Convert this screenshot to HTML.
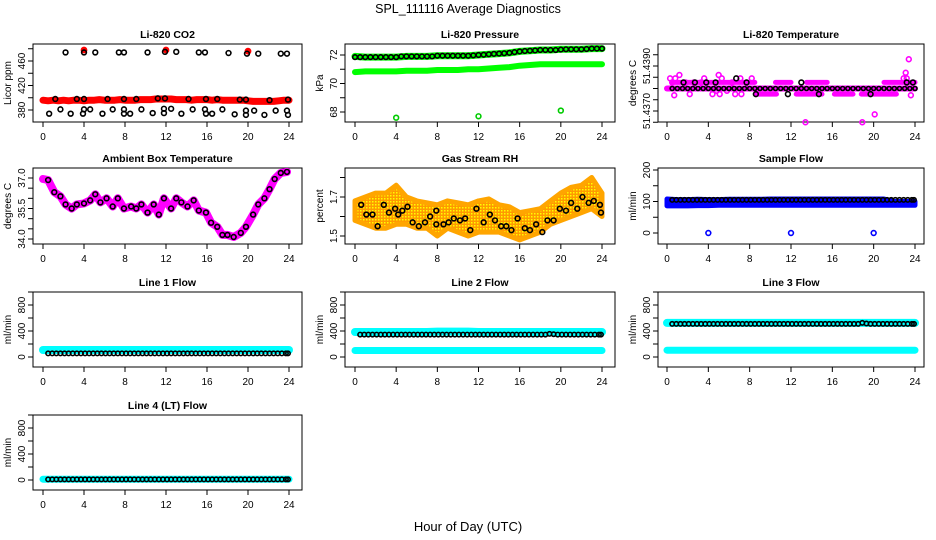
<!DOCTYPE html>
<html><head><meta charset="utf-8"><style>
html,body{margin:0;padding:0;background:#fff}
svg{display:block;font-family:"Liberation Sans",sans-serif}
</style></head><body>
<svg id="chart" width="936" height="540" viewBox="0 0 936 540" xmlns="http://www.w3.org/2000/svg">
<text x="468" y="13" text-anchor="middle" font-size="12.5">SPL_111116  Average Diagnostics</text>
<text x="468" y="531" text-anchor="middle" font-size="13">Hour of Day (UTC)</text>
</svg>
<script>
const xTicks=[0,4,8,12,16,20,24];
const co2Red=[396,395,396,395,396,395,396,396,395,396,396,397,396,396,396,397,396,396,396,397,397,397,398,398,398,398,397,397,397,396,397,397,397,396,397,396,396,396,396,396,395,394,394,394,394,394,395,396,396];
const co2RedOut=[[4,478],[12,478],[20,476]];
const co2Black=[[2.2,474],[4,474],[5.1,474],[7.4,474],[7.9,474],[10.2,474],[11.9,475],[13,475],[15.2,474],[15.8,474],[18.1,473],[19.9,472],[21,472],[23.2,472],[23.8,472],[1.2,398],[3.3,398],[4,398],[6.3,398],[7.9,398],[9.1,398],[11.2,399],[11.9,399],[14.2,398],[15.9,398],[17,398],[19.2,397],[19.8,397],[22.1,396],[23.9,397],[0.6,374],[1.7,381],[2.7,374],[3.9,374],[4,381],[4.6,381],[5.8,374],[6.8,381],[7.9,381],[7.9,374],[8.5,374],[9.6,381],[10.7,375],[11.8,375],[11.8,382],[12.5,382],[13.5,374],[14.6,381],[15.8,381],[15.9,374],[16.5,374],[17.5,381],[18.7,373],[19.8,372],[19.8,379],[20.6,379],[21.6,372],[22.7,379],[23.8,379],[23.9,372]];
const presUp=[71.9,71.85,71.85,71.85,71.85,71.9,71.9,71.9,71.95,71.95,71.95,71.95,72.0,72.05,72.1,72.15,72.25,72.3,72.35,72.35,72.4,72.4,72.4,72.45,72.45];
const presLow=[70.8,70.85,70.85,70.85,70.85,70.9,70.9,70.9,70.95,70.95,70.95,71.0,71.0,71.05,71.1,71.15,71.25,71.3,71.35,71.35,71.35,71.35,71.35,71.35,71.35];
const presOut=[[4,67.6],[12,67.7],[20,68.1]];
const presBlack=[71.85,71.85,71.85,71.85,71.85,71.85,71.85,71.85,71.85,71.9,71.9,71.9,71.9,71.9,71.9,71.9,71.95,71.95,71.95,71.95,71.95,71.95,71.95,71.97,72.0,72.02,72.05,72.08,72.1,72.12,72.15,72.2,72.25,72.28,72.3,72.32,72.35,72.35,72.35,72.35,72.38,72.4,72.4,72.4,72.4,72.42,72.45,72.45,72.45];
const tempUpSeg=[[0.5,8.5],[10.5,12],[13.5,15.5],[21,24]];
const tempLowSeg=[[8.6,10.6],[12.5,15],[16.2,18],[18.8,22.2]];
const tempMag=[[0.3,51.43845],[0.5,51.43827],[0.7,51.4377],[0.8,51.43845],[1.2,51.4386],[1.8,51.43827],[2.2,51.43775],[2.6,51.43827],[3.3,51.43827],[3.6,51.43845],[4.4,51.43775],[4.8,51.4379],[5,51.4386],[5.1,51.43775],[5.3,51.43845],[5.8,51.4379],[6.3,51.43827],[6.6,51.43775],[7.1,51.43845],[7.2,51.43775],[8.2,51.43845],[13.4,51.4365],[18.9,51.4365],[20.1,51.43685],[22.9,51.43845],[23.1,51.4387],[23.4,51.4393],[23.6,51.4377],[23.2,51.43845]];
const tempBlack=[[1.6,51.43827],[2.7,51.43827],[3.8,51.43827],[4.7,51.43827],[6.7,51.43845],[7.7,51.43827],[8.6,51.43775],[11.7,51.43775],[13,51.43827],[14.7,51.43775],[19.7,51.43775],[23.2,51.43827],[23.8,51.43827]];
const tempMainVals=[51.4380,51.4380,51.4380,51.4380,51.4380,51.4380,51.4380,51.4380,51.4380,51.4380,51.4380,51.4380,51.4380,51.4380,51.4380,51.4380,51.4380,51.4380,51.4380,51.4380,51.4380,51.4380,51.4380,51.4380,51.4380,51.4380,51.4380,51.4380,51.4380,51.4380,51.4380,51.4380,51.4380,51.4380,51.4380,51.4380,51.4380,51.4380,51.4380,51.4380,51.4380,51.4380,51.4380,51.4380,51.4380,51.4380,51.4380,51.4380,51.4380];
const ambT=[0,0.5,1.1,1.7,2.2,2.8,3.3,4,4.6,5.1,5.6,6.2,6.8,7.3,7.9,8.6,9.1,9.6,10.2,10.8,11.3,11.8,12.5,13,13.5,14.1,14.7,15.2,15.9,16.4,17,17.5,18,18.6,19.3,19.8,20.5,21,21.6,22.1,22.6,23.2,23.8];
const ambV=[36.95,36.9,36.3,36.1,35.7,35.5,35.7,35.75,35.9,36.2,35.8,36.0,35.6,36.0,35.5,35.6,35.5,35.7,35.3,35.7,35.2,36.0,35.5,36.0,35.8,35.6,35.9,35.4,35.3,34.8,34.6,34.2,34.2,34.1,34.3,34.6,35.2,35.7,36.0,36.45,36.95,37.25,37.3];
const rhUp=[1.68,1.70,1.72,1.72,1.76,1.70,1.68,1.67,1.66,1.68,1.67,1.66,1.68,1.69,1.66,1.65,1.62,1.63,1.64,1.68,1.72,1.75,1.76,1.80,1.72];
const rhLow=[1.58,1.56,1.54,1.54,1.56,1.56,1.54,1.54,1.50,1.54,1.52,1.50,1.52,1.52,1.52,1.50,1.48,1.50,1.52,1.56,1.58,1.60,1.62,1.64,1.60];
const rhBlack=[[0.6,1.66],[1.1,1.61],[1.7,1.61],[2.2,1.55],[2.8,1.66],[3.3,1.62],[3.9,1.64],[4.2,1.61],[4.6,1.63],[5.1,1.65],[5.6,1.57],[6.2,1.55],[6.8,1.57],[7.3,1.60],[7.9,1.63],[7.9,1.56],[8.6,1.56],[9.1,1.57],[9.6,1.59],[10.2,1.58],[10.7,1.59],[11.2,1.53],[11.8,1.64],[12.5,1.57],[13.1,1.61],[13.6,1.58],[14.2,1.55],[14.7,1.55],[15.2,1.53],[15.8,1.59],[16.5,1.54],[17.0,1.53],[17.6,1.56],[18.2,1.52],[18.7,1.58],[19.3,1.58],[19.9,1.64],[20.5,1.63],[21,1.67],[21.6,1.64],[22.1,1.70],[22.7,1.67],[23.2,1.68],[23.8,1.66],[23.9,1.62]];
const hourT=[0,1,2,3,4,5,6,7,8,9,10,11,12,13,14,15,16,17,18,19,20,21,22,23,24];
const blackT=[0.5,0.9,1.3,1.7,2.1,2.5,2.9,3.3,3.7,4.1,4.5,4.9,5.3,5.7,6.1,6.5,6.9,7.3,7.7,8.1,8.5,8.9,9.3,9.7,10.1,10.5,10.9,11.3,11.7,12.1,12.5,12.9,13.3,13.7,14.1,14.5,14.9,15.3,15.7,16.1,16.5,16.9,17.3,17.7,18.1,18.5,18.9,19.3,19.7,20.1,20.5,20.9,21.3,21.7,22.1,22.5,22.9,23.3,23.7,23.9];
const sampUp=[108,106,106,107,106,106,107,107,107,107,108,108,108,108,108,108,108,108,108,108,108,108,100,100,100];
const sampLow=[86,86,86,87,87,88,88,88,88,88,88,88,88,88,88,88,88,88,88,88,88,88,88,88,88];
const sampBlack=[105,105,105,105,105,105,105,105,105,105,105,105,105,105,105,105,105,105,105,105,105,105,105,105,105,105,105,105,105,105,105,105,105,105,105,105,105,105,105,105,105,105,105,105,105,105,105,105,105,105,105,105,105,105,105,105,105,105,105,105];
const sampOut=[[4,0],[12,0],[20,0]];
const l1Cyan=[108,108,108,108,108,108,108,108,108,108,108,108,108,108,108,108,108,108,108,108,108,108,108,108,108];
const l1Black=[55,55,55,55,55,55,55,55,55,55,55,55,55,55,55,55,55,55,55,55,55,55,55,55,55,55,55,55,55,55,55,55,55,55,55,55,55,55,55,55,55,55,55,55,55,55,55,55,55,55,55,55,55,55,55,55,55,55,55,55];
const l2CyanUp=[385,385,385,385,385,385,385,385,390,390,390,390,385,385,385,385,385,385,385,385,385,385,385,385,385];
const l2CyanLow=[100,100,100,100,100,100,100,100,100,100,100,100,100,100,100,100,100,100,100,100,100,100,100,100,100];
const l2Black=[345,345,345,345,345,345,345,345,345,345,345,345,345,345,345,345,345,345,345,345,345,345,345,345,345,345,345,345,345,345,345,345,345,345,345,345,345,345,345,345,345,345,345,345,345,345,355,350,345,345,345,345,345,345,345,345,345,345,345,345];
const l3CyanUp=[525,525,525,525,525,525,525,525,525,525,525,525,525,525,525,525,525,525,525,525,525,525,525,525,525];
const l3CyanLow=[105,105,105,105,105,105,105,105,105,105,105,105,105,105,105,105,105,105,105,105,105,105,105,105,105];
const l3Black=[510,510,510,510,510,510,510,510,510,510,510,510,510,510,510,510,510,510,510,510,510,510,510,510,510,510,510,510,510,510,510,510,510,510,510,510,510,510,510,510,510,510,510,510,510,510,525,515,510,510,510,510,510,510,510,510,510,510,510,510];
const l4Cyan=[12,12,12,12,12,12,12,12,12,12,12,12,12,12,12,12,12,12,12,12,12,12,12,12,12];
const l4Black=[10,10,10,10,10,10,10,10,10,10,10,10,10,10,10,10,10,10,10,10,10,10,10,10,10,10,10,10,10,10,10,10,10,10,10,10,10,10,10,10,10,10,10,10,10,10,10,10,10,10,10,10,10,10,10,10,10,10,10,10];

const svg=document.getElementById('chart');
const NS='http://www.w3.org/2000/svg';
const cols=[{b0:33,b1:302,x0:43,x24:289},{b0:345,b1:615,x0:355,x24:602},{b0:658,b1:924,x0:667,x24:915}];
const rows=[[44,122],[168,244],[292,367],[415,490]];
function mk(tag,attrs,parent){const e=document.createElementNS(NS,tag);for(const k in attrs)e.setAttribute(k,attrs[k]);(parent||svg).appendChild(e);return e;}
function panel(name,c,r,title,ylab,v1,p1,v2,p2,ticks,labels,fmt){
  const C=cols[c],R=rows[r];
  const g=mk('g',{});
  
  
  const x=t=>C.x0+t*(C.x24-C.x0)/24;
  const y=v=>p1+(v-v1)*(p2-p1)/(v2-v1);
  const box=mk('rect',{x:C.b0,y:R[0],width:C.b1-C.b0,height:R[1]-R[0],fill:'none',stroke:'#000','stroke-width':1},g);
  
  
  const tt=mk('text',{x:(C.b0+C.b1)/2,y:R[0]-6,'text-anchor':'middle','font-size':10.5,'font-weight':'bold'},g);
  tt.textContent=title;
  
  
  const yl=mk('text',{transform:`translate(${C.b0-22},${(R[0]+R[1])/2}) rotate(-90)`,'text-anchor':'middle','font-size':10},g);
  yl.textContent=ylab;
  
  
  const xa=mk('g',{},g);
  
  
  mk('line',{x1:x(xTicks[0]),x2:x(xTicks[xTicks.length-1]),y1:R[1],y2:R[1],stroke:'#000'},xa);
  xTicks.forEach(t=>{mk('line',{x1:x(t),x2:x(t),y1:R[1],y2:R[1]+5,stroke:'#000'},xa);
    const l=mk('text',{x:x(t),y:R[1]+18,'text-anchor':'middle','font-size':10},xa);l.textContent=t;});
  const ya=mk('g',{},g);
  
  
  mk('line',{x1:C.b0,x2:C.b0,y1:y(ticks[0]),y2:y(ticks[ticks.length-1]),stroke:'#000'},ya);
  ticks.forEach(v=>mk('line',{x1:C.b0-5,x2:C.b0,y1:y(v),y2:y(v),stroke:'#000'},ya));
  labels.forEach(v=>{const l=mk('text',{transform:`translate(${C.b0-8},${y(v)}) rotate(-90)`,'text-anchor':'middle','font-size':10},ya);l.textContent=fmt?fmt(v):v;});
  return {g,x,y};
}
function line(P,ts,vs,color,w,name){
  const d=ts.map((t,i)=>(i?'L':'M')+P.x(t).toFixed(1)+' '+P.y(vs[i]).toFixed(1)).join(' ');
  const e=mk('path',{d,fill:'none',stroke:color,'stroke-width':w,'stroke-linecap':'round','stroke-linejoin':'round'},P.g);
  
  
}
function band(P,ts,up,low,fill,color,name){
  let d=ts.map((t,i)=>(i?'L':'M')+P.x(t).toFixed(1)+' '+P.y(up[i]).toFixed(1)).join(' ');
  for(let i=ts.length-1;i>=0;i--)d+=' L'+P.x(ts[i]).toFixed(1)+' '+P.y(low[i]).toFixed(1);
  const e=mk('path',{d:d+'Z',fill:fill,stroke:color,'stroke-width':5,'stroke-linejoin':'round'},P.g);
  
  
}
function pts(P,arr,color,name,r,fill){
  const gg=mk('g',{},P.g);
  
  
  arr.forEach(p=>{const c=mk('circle',{cx:P.x(p[0]),cy:P.y(p[1]),r:r||2.4,fill:fill||'none',stroke:color,'stroke-width':1.6},gg);
    
    });
}
const zip=(ts,vs)=>ts.map((t,i)=>[t,vs[i]]);
const halfT=co2Red.map((_,i)=>i*0.5);
const defs=mk('defs',{});
defs.innerHTML='<pattern id="dots" width="3" height="3" patternUnits="userSpaceOnUse"><rect width="3" height="3" fill="#ff9a00"/><rect width="1.5" height="1.5" fill="#ff0"/></pattern>';

let P=panel('panel-co2',0,0,'Li-820 CO2','Licor ppm',460,61,380,110,[380,400,420,440,460,480],[380,420,460]);
line(P,halfT,co2Red,'#f00',7,'co2-red-series');
pts(P,co2RedOut,'#f00','co2-red-outliers',2.6,'#f00');
pts(P,co2Black,'#000','co2-black-series');

P=panel('panel-pressure',1,0,'Li-820 Pressure','kPa',72,55,68,112,[68,69,70,71,72],[68,70,72]);
line(P,hourT,presUp,'#0f0',7,'pressure-green-upper');
line(P,hourT,presLow,'#0f0',6,'pressure-green-lower');
pts(P,zip(halfT,presBlack),'#000','pressure-black-series',2.3);
pts(P,presOut,'#0c0','pressure-outliers');

P=panel('panel-temperature',2,0,'Li-820 Temperature','degrees C',51.4390,66,51.4370,111,[51.4365,51.4370,51.4375,51.4380,51.4385,51.4390,51.4395],[51.4370,51.4390],v=>v.toFixed(4));
line(P,[0,24],[51.4380,51.4380],'#f0f',6,'temp-magenta-main');
tempUpSeg.forEach(s=>line(P,s,[51.43827,51.43827],'#f0f',5,'temp-magenta-upper'));
tempLowSeg.forEach(s=>line(P,s,[51.43775,51.43775],'#f0f',5,'temp-magenta-lower'));
pts(P,tempMag,'#f0f','temp-magenta-points');
pts(P,zip(halfT.slice(1),tempMainVals.slice(1)),'#000','temp-black-main',2);
pts(P,tempBlack,'#000','temp-black-points');

P=panel('panel-ambient',0,1,'Ambient Box Temperature','degrees C',37,178,34,239,[34,34.5,35,35.5,36,36.5,37],[34,35.5,37],v=>v.toFixed(1));
line(P,ambT,ambV,'#f0f',8,'ambient-magenta-series');
pts(P,zip(ambT.slice(1),ambV.slice(1)),'#000','ambient-black-series');

P=panel('panel-rh',1,1,'Gas Stream RH','percent',1.7,197,1.5,236,[1.5,1.6,1.7,1.8],[1.5,1.7]);
band(P,hourT,rhUp,rhLow,'url(#dots)','#ffa500','rh-orange-band');
pts(P,rhBlack,'#000','rh-black-series');

P=panel('panel-sample-flow',2,1,'Sample Flow','ml/min',0,233,200,170,[0,50,100,150,200],[0,100,200]);
band(P,hourT,sampUp,sampLow,'#00f','#00f','sample-blue-band');
pts(P,zip(blackT,sampBlack),'#000','sample-black-series',2.2);
pts(P,sampOut,'#00f','sample-outliers');

const ft=[0,200,400,600,800,1000],fl=[0,400,800];
P=panel('panel-line1',0,2,'Line 1 Flow','ml/min',0,357,800,305,ft,fl);
line(P,hourT,l1Cyan,'#0ff',8,'line1-cyan-series');
pts(P,zip(blackT,l1Black),'#000','line1-black-series',2.2);
P=panel('panel-line2',1,2,'Line 2 Flow','ml/min',0,357,800,305,ft,fl);
line(P,hourT,l2CyanUp,'#0ff',8,'line2-cyan-upper');
line(P,hourT,l2CyanLow,'#0ff',7,'line2-cyan-lower');
pts(P,zip(blackT,l2Black),'#000','line2-black-series',2.2);
P=panel('panel-line3',2,2,'Line 3 Flow','ml/min',0,357,800,305,ft,fl);
line(P,hourT,l3CyanUp,'#0ff',8,'line3-cyan-upper');
line(P,hourT,l3CyanLow,'#0ff',7,'line3-cyan-lower');
pts(P,zip(blackT,l3Black),'#000','line3-black-series',2.2);
P=panel('panel-line4',0,3,'Line 4 (LT) Flow','ml/min',0,480,800,428,ft,fl);
line(P,hourT,l4Cyan,'#0ff',7,'line4-cyan-series');
pts(P,zip(blackT,l4Black),'#000','line4-black-series',2.2);
</script>
</body></html>
